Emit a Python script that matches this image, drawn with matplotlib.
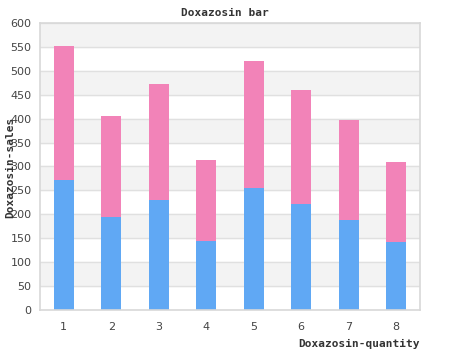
import numpy as np
import matplotlib.pyplot as plt

quantity = ["1", "2", "3", "4", "5", "6", "7", "8"]
sales_a = [272, 194, 230, 144, 255, 222, 188, 143]
sales_b = [280, 212, 243, 170, 265, 238, 210, 167]
yticks = [0, 50, 100, 150, 200, 250, 300, 350, 400, 450, 500, 550, 600]

fig = plt.figure(figsize=(4.5, 3.5), dpi=100)
ax = fig.add_axes([40/450, 1 - 310/350, 380/450, 287/350])

# alternating bands
for i in range(len(yticks) - 1):
    if i % 2 == 1:
        ax.axhspan(yticks[i], yticks[i+1], color="#f3f3f3", zorder=0)
for y in yticks[1:]:
    ax.axhline(y, color="#e0e0e0", lw=1, zorder=1)

x = np.arange(1, len(quantity) + 1)
ax.bar(x, sales_a, width=0.42, color="#60a8f4", zorder=2)
ax.bar(x, sales_b, width=0.42, bottom=sales_a, color="#f283b8", zorder=2)

ax.set_xlim(0.5, 8.5)
ax.set_ylim(0, 600)
ax.set_xticks(x)
ax.set_xticklabels(quantity)
ax.set_yticks(yticks)
ax.tick_params(length=0, labelsize=8, colors="#444444", pad=6)
ax.tick_params(axis="x", pad=9)
for s in ax.spines.values():
    s.set_color("#d8d8d8")
    s.set_linewidth(1.2)

mono = dict(family="DejaVu Sans Mono", fontweight="bold", fontsize=8, color="#333333")
fig.text(225/450, 1 - 13/350, "Doxazosin bar", ha="center", va="center", **mono)
fig.text(420/450, 1 - 344/350, "Doxazosin-quantity", ha="right", va="center", **mono)
fig.text(10/450, 1 - 167/350, "Doxazosin-sales", ha="center", va="center", rotation=90, **mono)

fig.savefig("out.png", dpi=100)
